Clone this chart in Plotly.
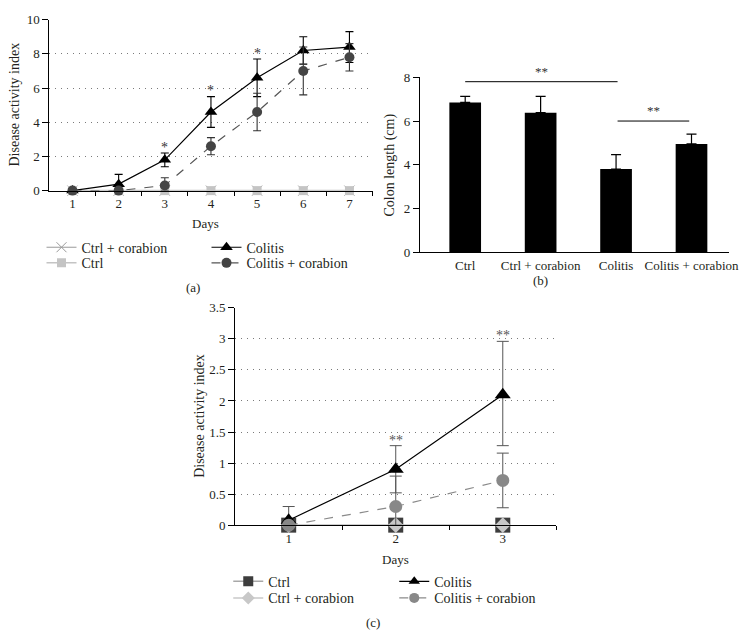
import plotly.graph_objects as go

W, H = 756, 644
FONT = "Liberation Serif"
TXT = "#231f20"
FS = 13

# ---------------- Panel (a) data ----------------
days_a = [1, 2, 3, 4, 5, 6, 7]
ctrl_a = [0, 0, 0, 0, 0, 0, 0]
ctrl_cor_a = [0, 0, 0, 0, 0, 0, 0]
colitis_a = [0, 0.38, 1.8, 4.6, 6.6, 8.2, 8.4]
colitis_a_err = [0, 0.57, 0.4, 0.9, 1.1, 0.8, 0.9]
colitis_a_errm = [0, 0.36, 0.4, 0.9, 1.1, 0.8, 0.9]
colcor_a = [0, 0, 0.3, 2.6, 4.6, 7.0, 7.8]
colcor_a_err = [0, 0, 0.45, 0.5, 1.1, 1.4, 0.8]
colcor_a_errm = [0, 0, 0.3, 0.5, 1.1, 1.4, 0.8]
stars_a_days = [3, 4, 5]
stars_a_y = [2.55, 5.85, 8.05]
stars_a_txt = ["*", "*", "*"]

# ---------------- Panel (b) data ----------------
groups_b = ["Ctrl", "Ctrl + corabion", "Colitis", "Colitis + corabion"]
length_b = [6.85, 6.38, 3.8, 4.95]
length_b_err = [0.28, 0.75, 0.66, 0.45]
sig_b = [  # (x0, x1, y, label)
    (0.0, 2.02, 7.8, "**"),
    (2.02, 2.97, 6.0, "**"),
]

# ---------------- Panel (c) data ----------------
days_c = [1, 2, 3]
ctrl_c = [0, 0, 0]
ctrl_cor_c = [0, 0, 0]
colitis_c = [0.08, 0.9, 2.1]
colitis_c_err = [0.22, 0.38, 0.86]
colitis_c_errm = [0.0, 0.38, 0.82]
colcor_c = [0, 0.3, 0.72]
colcor_c_err = [0, 0.49, 0.44]
colcor_c_errm = [0, 0.3, 0.44]
stars_c_days = [2, 3]
stars_c_y = [1.36, 3.06]
stars_c_txt = ["**", "**"]


def px_x(p):
    return p / W


def px_y(p):
    return 1 - p / H


fig = go.Figure()

# ---- (a) traces ----
fig.add_trace(go.Scatter(
    x=days_a, y=ctrl_cor_a, name="Ctrl + corabion", mode="lines+markers",
    line=dict(color="#9a9a9a", width=1),
    marker=dict(symbol="x-thin-open", size=10, line=dict(color="#8a8a8a", width=1)),
    xaxis="x", yaxis="y", legend="legend", cliponaxis=False))
fig.add_trace(go.Scatter(
    x=days_a, y=ctrl_a, name="Ctrl", mode="lines+markers",
    line=dict(color="#c4c4c4", width=1.5),
    marker=dict(symbol="square", size=9, color="#c4c4c4"),
    xaxis="x", yaxis="y", legend="legend2", cliponaxis=False))
fig.add_trace(go.Scatter(
    x=days_a, y=colitis_a, name="Colitis", mode="lines+markers",
    line=dict(color="black", width=1.2),
    marker=dict(symbol="triangle-up", size=11, color="black"),
    error_y=dict(type="data", array=colitis_a_err, arrayminus=colitis_a_errm,
                 color="black", thickness=1.1, width=4),
    xaxis="x", yaxis="y", legend="legend", cliponaxis=False))
fig.add_trace(go.Scatter(
    x=days_a, y=colcor_a, name="Colitis + corabion", mode="lines+markers",
    line=dict(color="#555555", width=1.2, dash="dash"),
    marker=dict(symbol="circle", size=10, color="#444444"),
    error_y=dict(type="data", array=colcor_a_err, arrayminus=colcor_a_errm,
                 color="#333333", thickness=1.1, width=4),
    xaxis="x", yaxis="y", legend="legend2", cliponaxis=False))

# ---- (b) bars ----
fig.add_trace(go.Bar(
    x=list(range(len(groups_b))), y=length_b, width=0.42,
    marker=dict(color="black", line=dict(width=0)),
    error_y=dict(type="data", array=length_b_err, symmetric=False, arrayminus=[0] * 4,
                 color="black", thickness=1.2, width=5),
    xaxis="x2", yaxis="y2", showlegend=False))

# ---- (c) traces (legend shown by small-marker entries below) ----
c_styles = [
    ("Ctrl", ctrl_c, None, None, dict(color="#a8a8a8", width=1.5),
     dict(symbol="square", size=15, color="#3d3d3d"), 10, "legend3"),
    ("Ctrl + corabion", ctrl_cor_c, None, None, dict(color="#c8c8c8", width=1.5),
     dict(symbol="diamond", size=12, color="#c8c8c8"), 10, "legend4"),
    ("Colitis", colitis_c, colitis_c_err, colitis_c_errm, dict(color="black", width=1.2),
     dict(symbol="triangle-up", size=14, color="black"), 10, "legend3"),
    ("Colitis + corabion", colcor_c, colcor_c_err, colcor_c_errm,
     dict(color="#8a8a8a", width=1.2, dash="dash"),
     dict(symbol="circle", size=13, color="#888888"), 10, "legend4"),
]
for name, yv, ep, em, ln, mk, lsize, leg in c_styles:
    err = None
    if ep is not None:
        err = dict(type="data", array=ep, arrayminus=em, color="#555555",
                   thickness=1, width=6)
    fig.add_trace(go.Scatter(
        x=days_c, y=yv, name=name, mode="lines+markers", line=ln, marker=mk,
        error_y=err, xaxis="x3", yaxis="y3", showlegend=False, cliponaxis=False))
for name, yv, ep, em, ln, mk, lsize, leg in c_styles:
    mk_leg = dict(mk, size=lsize)
    fig.add_trace(go.Scatter(
        x=[None], y=[None], name=name, mode="lines+markers", line=ln, marker=mk_leg,
        xaxis="x3", yaxis="y3", legend=leg, showlegend=True))

annotations = []
for d, yv, t in zip(stars_a_days, stars_a_y, stars_a_txt):
    annotations.append(dict(x=d, y=yv, xref="x", yref="y", text=t, showarrow=False,
                            font=dict(size=14, color="#333333"), yanchor="middle"))
for d, yv, t in zip(stars_c_days, stars_c_y, stars_c_txt):
    annotations.append(dict(x=d, y=yv, xref="x3", yref="y3", text=t, showarrow=False,
                            font=dict(size=14, color="#555555"), yanchor="middle"))

shapes = []
for x0, x1, yv, t in sig_b:
    shapes.append(dict(type="line", x0=x0, x1=x1, y0=yv, y1=yv, xref="x2", yref="y2",
                       line=dict(color="black", width=1)))
    annotations.append(dict(x=(x0 + x1) / 2, y=yv + 0.05, xref="x2", yref="y2", text=t,
                            showarrow=False, yanchor="bottom",
                            font=dict(size=13, color="#333333")))


def lab(px, py, text, angle=0, size=FS):
    annotations.append(dict(x=px_x(px), y=px_y(py), xref="paper", yref="paper", text=text,
                            showarrow=False, textangle=angle, xanchor="center",
                            yanchor="middle", font=dict(size=size, color=TXT)))


lab(15, 100, "Disease activity index", -90, 14)
lab(208, 222, "Days")
lab(195, 287, "(a)")
lab(395, 162, "Colon length (cm)", -90, 14)
lab(547, 280, "(b)")
lab(202, 419, "Disease activity index", -90, 14)
lab(400, 566, "Days")
lab(377, 630, "(c)")

GRID = dict(showgrid=True, gridcolor="#7a7a7a", griddash="1px,5px", gridwidth=1)

axis_common = dict(showline=True, linecolor="black", linewidth=1, zeroline=False,
                   tickfont=dict(size=FS, color=TXT), ticks="outside", tickcolor="black",
                   ticklen=6, fixedrange=True)

leg_common = dict(font=dict(size=14, color=TXT, family=FONT), bgcolor="rgba(0,0,0,0)",
                  itemwidth=30, tracegroupgap=0, xanchor="left", yanchor="top",
                  orientation="h", entrywidthmode="pixels", borderwidth=0,
                  itemsizing="trace")

fig.update_layout(
    width=W, height=H,
    margin=dict(l=0, r=0, t=0, b=0),
    paper_bgcolor="white", plot_bgcolor="white",
    font=dict(family=FONT, color=TXT, size=FS),
    showlegend=True,
    xaxis=dict(axis_common, domain=[px_x(50), px_x(377)], range=[0.5, 7.5],
               tickvals=days_a, ticktext=[str(d) for d in days_a], ticklen=0,
               ticklabelstandoff=1,
               minor=dict(tickvals=[1.5, 2.5, 3.5, 4.5, 5.5, 6.5, 7.5], ticks="outside",
                          ticklen=4, tickcolor="black", showgrid=False),
               anchor="y", showgrid=False),
    yaxis=dict(axis_common, **GRID, domain=[px_y(188), px_y(13)], range=[0, 10],
               tickvals=[0, 2, 4, 6, 8, 10], anchor="x"),
    xaxis2=dict(axis_common, domain=[px_x(425), px_x(738)], range=[-0.6, 3.5],
                tickvals=list(range(len(groups_b))), ticktext=groups_b, ticks="",
                ticklabelstandoff=1, anchor="y2", showgrid=False),
    yaxis2=dict(axis_common, domain=[px_y(251), px_y(72)], range=[0, 8],
                tickvals=[0, 2, 4, 6, 8], anchor="x2", showgrid=False),
    xaxis3=dict(axis_common, domain=[px_x(238), px_x(563)], range=[0.5, 3.5],
                tickvals=days_c, ticktext=[str(d) for d in days_c], ticklen=0,
                ticklabelstandoff=1,
                minor=dict(tickvals=[1.5, 2.5, 3.5], ticks="outside", ticklen=4,
                           tickcolor="black", showgrid=False),
                anchor="y3", showgrid=False),
    yaxis3=dict(axis_common, **GRID, domain=[px_y(530.5), px_y(308)], range=[0, 3.5],
                tickvals=[0, 0.5, 1, 1.5, 2, 2.5, 3, 3.5],
                ticktext=["0", "0.5", "1", "1.5", "2", "2.5", "3", "3.5"],
                anchor="x3"),
    legend=dict(leg_common, x=px_x(42), y=px_y(230), entrywidth=120),
    legend2=dict(leg_common, x=px_x(42), y=px_y(246), entrywidth=120),
    legend3=dict(leg_common, x=px_x(231), y=px_y(572), entrywidth=121),
    legend4=dict(leg_common, x=px_x(231), y=px_y(589), entrywidth=121),
    annotations=annotations,
    shapes=shapes,
)

fig.write_html("out.html", config={"displayModeBar": False},
               post_script="document.body.style.margin='0';")
